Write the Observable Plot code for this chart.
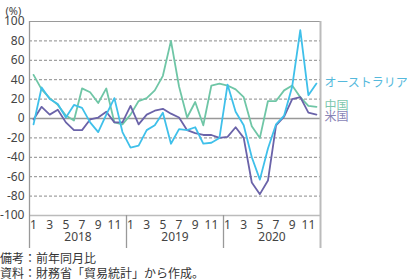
<!DOCTYPE html>
<html>
<head>
<meta charset="utf-8">
<script src="https://cdn.jsdelivr.net/npm/d3@7"></script>
<script src="https://cdn.jsdelivr.net/npm/@observablehq/plot@0.6"></script>
<style>
  html, body { margin: 0; padding: 0; background: #fff; }
  #chart svg { overflow: visible; display: block; }
  .note { font-family: "Noto Sans CJK JP", sans-serif; font-size: 12px; line-height: 15px; color: #333; margin: 0; padding-left: 0; white-space: nowrap; }
</style>
</head>
<body>
<div id="chart"></div>
<div class="note">備考：前年同月比</div>
<div class="note">資料：財務省「貿易統計」から作成。</div>
<script>
// Monthly data, Jan 2018 – Dec 2020 (year-on-year %)
const years = ["2018", "2019", "2020"];
const monthTickLabels = ["1", "3", "5", "7", "9", "11"];
const yTicks = [-100, -80, -60, -40, -20, 0, 20, 40, 60, 80, 100];

const australia = [
  -6, 32, 20, 15, 1, 14, 11, -4, -14, 4, 21, -14,
  -30, -28, -12, -7, 6, -26, -11, -12, -9, -26, -25, -20,
  35, 7, -7, -40, -63, -31, -6, 3, 33, 91, 24, 36
];
const china = [
  45, 30, 21, 14, 3, -2, 31, 27, 16, 31, -4, -6,
  4, 18, 21, 29, 44, 80, 33, 1, 17, -7, 34, 36,
  34, 30, 22, -8, -20, 18, 18, 29, 34, 22, 13, 12
];
const usa = [
  -1, 12, 4, 9, -4, -12, -12, -1, 1, 7, -4, -4,
  13, -6, 4, 8, 10, 5, 1, -12, -15, -17, -17, -20,
  -19, -9, -20, -66, -78, -64, -7, 2, 20, 22, 6, 4
];

const seriesNames = ["オーストラリア", "中国", "米国"];
const lineColors = ["#3fc0ea", "#6fc6a6", "#6a63a9"];
const labelColors = ["#55b9dc", "#7cc7ad", "#8884b6"];
const seriesValues = [australia, china, usa];

const rows = seriesValues.map((vals, s) => vals.map((v, i) => ({i, v, s: seriesNames[s]})));
const lastRows = rows.map(r => r[r.length - 1]);

const W = 407, H = 250, mT = 21, mB = 35, mL = 29, mR = 87;
const frameH = H - mT - mB;
const nMonths = australia.length;
const yearBounds = d3.range(1, years.length).map(k => k * 12 - 0.5);
const yearCenters = years.map((y, k) => ({y, x: k * 12 + 5.5}));
const jp = {fontFamily: "Noto Sans CJK JP", fontSize: 12};
const num = {fontFamily: "Noto Sans", fontSize: 12, fill: "#444"};

const chart = Plot.plot({
  width: W, height: H,
  marginTop: mT, marginBottom: mB, marginLeft: mL, marginRight: mR,
  style: {fontFamily: "'Noto Sans', sans-serif", fontSize: "12px", color: "#444", background: "#fff"},
  x: {type: "linear", domain: [-0.5, nMonths - 0.5], axis: null, label: null},
  y: {domain: [-100, 100], axis: null, label: null},
  marks: [
    Plot.ruleY(yTicks.filter(d => Math.abs(d) !== 100 && d !== 0), {stroke: "#8a8a8a", strokeDasharray: "3,2", strokeWidth: 1}),
    Plot.ruleY([100], {stroke: "#9a9a9a", strokeWidth: 1}),
    Plot.ruleY([-100], {stroke: "#bbb", strokeWidth: 1.5}),
    Plot.ruleY([0], {stroke: "#999", strokeWidth: 1.6}),
    Plot.ruleX([-0.5], {stroke: "#999", strokeWidth: 1.3, insetBottom: -33}),
    Plot.ruleX([nMonths - 0.5], {stroke: "#bbb", strokeWidth: 2, insetBottom: -33}),
    Plot.ruleX(yearBounds, {stroke: "#999", strokeWidth: 1.3, insetTop: frameH, insetBottom: -33}),
    Plot.line(rows[1], {x: "i", y: "v", stroke: lineColors[1], strokeWidth: 1.8}),
    Plot.line(rows[2], {x: "i", y: "v", stroke: lineColors[2], strokeWidth: 1.8}),
    Plot.line(rows[0], {x: "i", y: "v", stroke: lineColors[0], strokeWidth: 1.8}),
    Plot.axisY(yTicks, {label: null, tickSize: 0, tickPadding: 5, tickFormat: d => String(d), ...num}),
    Plot.axisX(d3.range(0, nMonths, 2), {label: null, tickSize: 0, tickPadding: 5, tickFormat: i => monthTickLabels[(i % 12) / 2], ...num}),
    Plot.text(yearCenters, {x: "x", text: "y", frameAnchor: "bottom", dy: 25, ...num}),
    Plot.text(["(%)"], {frameAnchor: "top-left", textAnchor: "start", dx: -24, dy: -14, ...num, fontSize: 11}),
    Plot.text([lastRows[0]], {x: "i", y: "v", text: "s", textAnchor: "start", dx: 8, dy: 0, ...jp, fill: labelColors[0]}),
    Plot.text([lastRows[1]], {x: "i", y: "v", text: "s", textAnchor: "start", dx: 8, dy: -1, ...jp, fill: labelColors[1]}),
    Plot.text([lastRows[2]], {x: "i", y: "v", text: "s", textAnchor: "start", dx: 8, dy: 3, ...jp, fill: labelColors[2]})
  ]
});
document.getElementById("chart").appendChild(chart);
</script>
</body>
</html>
